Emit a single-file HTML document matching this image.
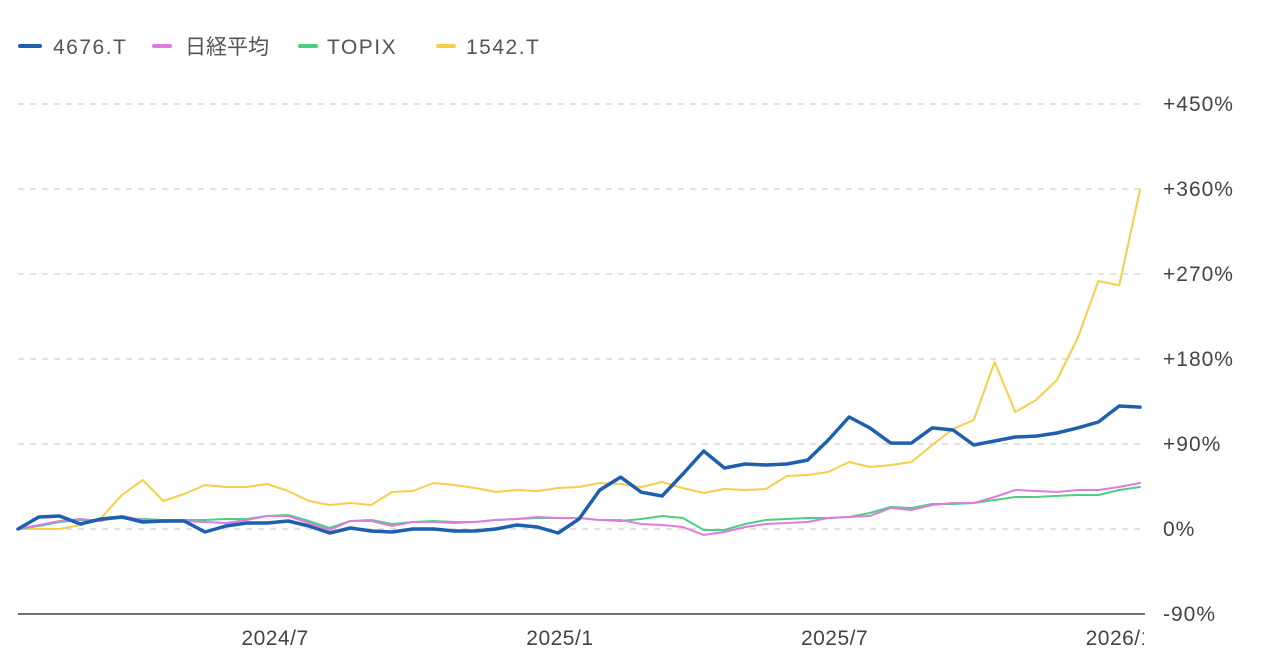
<!DOCTYPE html>
<html><head><meta charset="utf-8">
<style>
body{margin:0;background:#fff;width:1280px;height:659px;overflow:hidden;font-family:"Liberation Sans","Noto Sans CJK JP",sans-serif;}
svg text{font-family:"Liberation Sans","Noto Sans CJK JP",sans-serif;}
</style></head>
<body>
<svg id="chart" width="1280" height="659">
  <g font-size="21" fill="#555" letter-spacing="1.5">
    <g><rect x="18" y="44" width="24" height="4" rx="2" fill="#1f5fb0"/><text x="53" y="54">4676.T</text></g>
    <g><rect x="152" y="44" width="20" height="4" rx="2" fill="#e07be0"/><text x="185" y="54" letter-spacing="0">日経平均</text></g>
    <g><rect x="298" y="44" width="20" height="4" rx="2" fill="#4cd07d"/><text x="327" y="54">TOPIX</text></g>
    <g><rect x="436" y="44" width="20" height="4" rx="2" fill="#f5cf47"/><text x="466" y="54">1542.T</text></g>
  </g>
  <g id="grid"></g>
  <g id="ylabels"></g>
  <g id="xlabels"></g>
  <g id="series"></g>
</svg>
<script>
const yTicks=[-90,0,90,180,270,360,450];
const xTickIdx=[12.37,26.08,39.3,53];
const xTickLabels=["2024/7","2025/1","2025/7","2026/1"];
const s4676=[0,12.7,13.8,5.3,10.6,12.7,7.4,8.5,8.5,-3.2,3.2,6.4,6.4,8.5,3.2,-4.2,1.1,-2.1,-3.2,0,0,-2.1,-2.1,0,4.2,2.1,-4.2,10.6,41.3,55,39,34.9,58.2,82.6,64.6,68.8,67.8,68.8,73,94.2,118.6,107,91,91,107,104.8,88.9,93.2,97.4,98.4,101.6,107,113.3,130.2,129.1];
const sNikkei=[0,4.2,8.5,10.6,8.5,13.8,9.5,7.4,8.5,7.4,6.4,9.5,13.8,13.8,6.4,-1.1,8.5,8.5,3.2,7.4,7.4,6.4,7.4,9.5,10.6,12.7,11.6,11.6,9.5,9.5,5.3,4.2,2.1,-6.4,-3.2,2.1,5.3,6.4,7.4,11.6,12.7,13.8,22.2,20.1,25.4,27.5,27.5,33.9,41.3,40.2,39.2,41.3,41.3,44.5,48.7];
const sTopix=[0,3.2,7.4,9.5,9.5,11.6,10.6,9.5,9.5,9.5,10.6,10.6,13.8,14.8,8.5,1.1,8.5,9.5,5.3,7.4,8.5,7.4,7.4,9.5,10.6,11.6,11.6,11.6,9.5,8.5,10.6,13.8,11.6,-1.1,-1.1,5.3,9.5,10.6,11.6,11.6,12.7,16.9,23.3,22.2,26.5,26.5,27.5,30.7,33.9,33.9,35,36,36,41.3,44.5];
const s1542=[0,0,0,4.2,11.6,36,51.9,29.6,37.1,46.6,44.5,44.5,47.6,40.2,29.6,25.4,27.5,25.4,39.2,40.2,48.7,46.6,43.4,39.2,41.3,40.2,43.4,44.5,48.7,47.6,44.5,49.8,43.4,38.1,42.4,41.3,42.4,56.1,57.2,60.4,70.9,65.6,67.8,70.9,88.9,105.9,115.4,176.8,123.9,136.6,157.8,202.2,262.6,258,359];

const NS="http://www.w3.org/2000/svg";
const X0=18,X1=1140,N=s4676.length;
const xs=i=>X0+i*(X1-X0)/(N-1);
const ys=v=>529-v*85/90;
function el(t,a,p){const e=document.createElementNS(NS,t);for(const k in a)e.setAttribute(k,a[k]);p.appendChild(e);return e;}
const grid=document.getElementById('grid'),yl=document.getElementById('ylabels'),xl=document.getElementById('xlabels'),ser=document.getElementById('series');
yTicks.forEach(v=>{
  const y=ys(v);
  const ln=el('line',v===-90?{x1:18,x2:1145,y1:y,y2:y,stroke:'#444','stroke-width':1.5}:{x1:18,x2:1145,y1:y,y2:y,stroke:'#d0d0d0','stroke-width':1.2,'stroke-dasharray':'6,6'},grid);
  
  
  const t=el('text',{x:1163,y:y+7,'font-size':21,fill:'#444','letter-spacing':1},yl);
  t.textContent=(v>0?'+':'')+v+'%';
  
  
});
const clip=el('clipPath',{id:'xc'},document.getElementById('chart'));
el('rect',{x:0,y:600,width:1144,height:59},clip);
xl.setAttribute('clip-path','url(#xc)');
xTickIdx.forEach((ix,k)=>{
  const t=el('text',{x:xs(ix),y:645,'font-size':21,fill:'#444','text-anchor':'middle','letter-spacing':0.5},xl);
  t.textContent=xTickLabels[k];
  
  
});
function line(data,color,w,name){
  const d=data.map((v,i)=>(i?'L':'M')+xs(i).toFixed(1)+','+ys(v).toFixed(1)).join('');
  const p=el('path',{d:d,fill:'none',stroke:color,'stroke-width':w,'stroke-linejoin':'round','stroke-linecap':'round'},ser);
  
  
}
line(s1542,'#f5cf47',2,'line-1542');
line(sTopix,'#4cd07d',2,'line-topix');
line(sNikkei,'#e07be0',2,'line-nikkei');
line(s4676,'#1f5fb0',3.5,'line-4676');
</script>
</body></html>
